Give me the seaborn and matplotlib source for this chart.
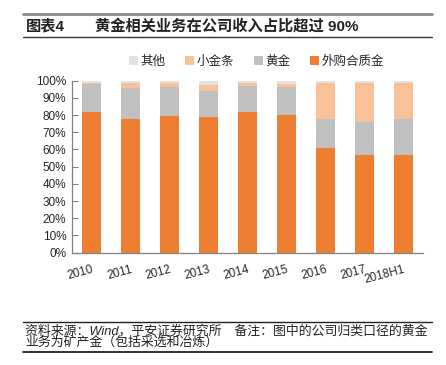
import numpy as np
import pandas as pd
import matplotlib
matplotlib.use("Agg")
import matplotlib.pyplot as plt
import seaborn as sns
from matplotlib.lines import Line2D
from matplotlib.patches import Patch
from matplotlib.ticker import FixedLocator

# data (percent of company revenue)
years = ['2010', '2011', '2012', '2013', '2014', '2015', '2016', '2017', '2018H1']
purchased = [82, 78, 79.5, 79, 82, 80, 61, 57, 57]        # 外购合质金
gold = [16, 18, 17, 15, 15, 16.3, 16.5, 19, 20.5]          # 黄金
small_bar = [0.5, 2.5, 2, 3.7, 1.5, 2, 21.2, 22.8, 21]     # 小金条
other = [1.5, 1.5, 1.5, 2.3, 1.5, 1.7, 1.3, 1.2, 1.5]      # 其他

series_names = ['外购合质金', '黄金', '小金条', '其他']
colors = {'外购合质金': '#ED7D31', '黄金': '#C0C0C0',
          '小金条': '#F8C197', '其他': '#E2E2E2'}

sns.set_style('white')
plt.rcParams['font.family'] = ['Liberation Sans', 'Noto Sans CJK SC', 'DejaVu Sans']

df = pd.DataFrame({'year': years, '外购合质金': purchased, '黄金': gold,
                   '小金条': small_bar, '其他': other})
# cumulative totals, so each layer can be drawn on top of the previous one
cum = df[series_names].cumsum(axis=1)

fig = plt.figure(figsize=(4.46, 3.65), dpi=100)
ax = fig.add_axes([0.1614, 0.3077, 0.787, 0.4713])

for name in reversed(series_names):
    sns.barplot(x=df['year'], y=cum[name], order=years, color=colors[name],
                width=0.49, saturation=1, ax=ax, linewidth=0)

ax.set_xlim(-0.5, len(years) - 0.5)
ax.set_ylim(0, 100)
ax.set_yticks(range(0, 101, 10))
ax.set_yticklabels([f'{v}%' for v in range(0, 101, 10)], fontsize=8.5)
ax.set_xlabel('')
ax.set_ylabel('')

ax.set_xticks(range(len(years)))
ax.set_xticklabels(years, fontsize=8.5, rotation=15, ha='right',
                   rotation_mode='anchor')
ax.xaxis.set_minor_locator(FixedLocator(np.arange(-0.5, len(years), 1)))
ax.tick_params(axis='x', which='major', length=0, pad=8)
ax.tick_params(axis='x', which='minor', direction='in', length=4,
               color='#808080', width=0.8)
ax.tick_params(axis='y', direction='in', length=4, color='#808080',
               width=0.8, pad=4, left=True)

for side in ['top', 'right']:
    ax.spines[side].set_visible(False)
for side in ['left', 'bottom']:
    ax.spines[side].set_color('#808080')
    ax.spines[side].set_linewidth(0.9)

handles = [Patch(facecolor=colors[n], edgecolor='none') for n in reversed(series_names)]
fig.legend(handles, list(reversed(series_names)), loc='center',
           bbox_to_anchor=(0.575, 0.83), ncol=4, frameon=False, fontsize=9,
           handlelength=0.7, handleheight=0.7, handletextpad=0.2,
           columnspacing=1.6)

# title block
fig.add_artist(Line2D([23 / 446, 432 / 446], [1 - 13.5 / 365] * 2,
                      color='#8C8C8C', lw=2))
fig.add_artist(Line2D([23 / 446, 432 / 446], [1 - 37 / 365] * 2,
                      color='#333333', lw=1))
fig.text(26 / 446, 1 - 26 / 365, '图表4', fontsize=11, fontweight='bold',
         va='center', ha='left', color='#222222')
fig.text(95 / 446, 1 - 26 / 365, '黄金相关业务在公司收入占比超过 90%',
         fontsize=11, fontweight='bold', va='center', ha='left',
         color='#222222')

# footer
fig.add_artist(Line2D([23 / 446, 432 / 446], [1 - 321.7 / 365] * 2,
                      color='#222222', lw=1))
fig.add_artist(Line2D([23 / 446, 432 / 446], [1 - 351.7 / 365] * 2,
                      color='#222222', lw=1.3))
fig.text(25 / 446, 1 - 331.5 / 365,
         '资料来源：Wind，平安证券研究所　备注：图中的公司归类口径的黄金',
         fontsize=9.3, va='center', ha='left', color='#222222', style='italic')
fig.text(25 / 446, 1 - 343 / 365, '业务为矿产金（包括采选和冶炼）',
         fontsize=9.3, va='center', ha='left', color='#222222', style='italic')

fig.savefig('out.png', dpi=100)
